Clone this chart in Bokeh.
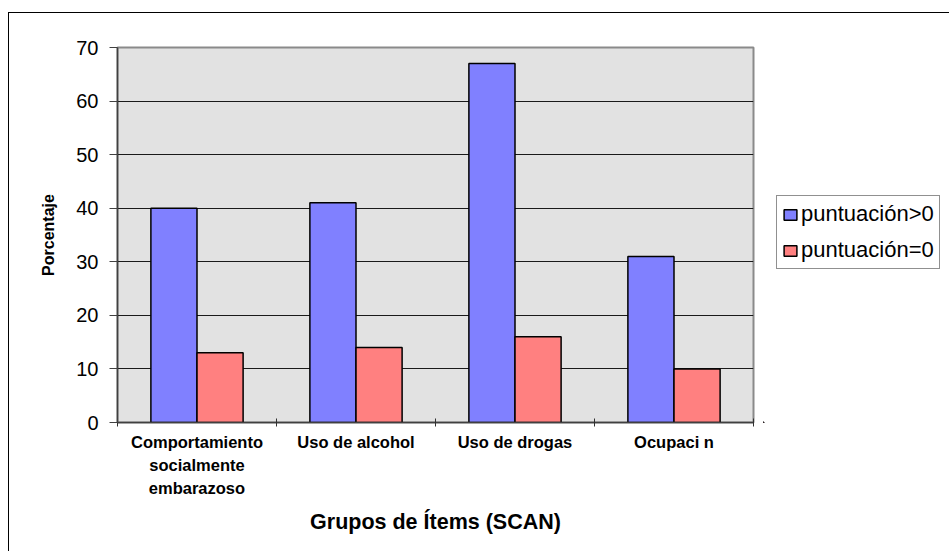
import numpy as np
from bokeh.plotting import figure
from bokeh.layouts import row
from bokeh.models import ColumnDataSource, Range1d, FixedTicker, Legend, LegendItem
from bokeh.transform import dodge
from bokeh.embed import file_html
from bokeh.resources import INLINE

# ---- data ----
categories = ["Comportamiento\nsocialmente\nembarazoso", "Uso de alcohol", "Uso de drogas", "Ocupaci n"]
mayor_cero = [40, 41, 67, 31]
igual_cero = [13, 14, 16, 10]
series_names = ["puntuación>0", "puntuación=0"]
series_colors = ["#8080ff", "#ff8080"]
y_ticks = [0, 10, 20, 30, 40, 50, 60, 70]
x_title = "Grupos de Ítems (SCAN)"
y_title = "Porcentaje"

pos = np.arange(len(categories)) + 0.5
src = ColumnDataSource(dict(x=pos, a=mayor_cero, b=igual_cero))

H = 538
PW = 108 + 636 + 10
LW = 940 - PW
p = figure(width=PW, height=H, x_range=Range1d(0, len(categories)), y_range=Range1d(0, 70),
           output_backend="svg", toolbar_location=None,
           min_border_left=108, min_border_right=10,
           min_border_top=34, min_border_bottom=H - 34 - 375)

p.background_fill_color = "#e2e2e2"
p.border_fill_color = "white"
p.outline_line_color = "#8a8a8a"
p.outline_line_width = 2

bw = 0.29
p.vbar(x=dodge("x", -bw / 2, range=p.x_range), top="a", width=bw, source=src,
       fill_color=series_colors[0], line_color="black", line_width=1.5)
p.vbar(x=dodge("x", bw / 2, range=p.x_range), top="b", width=bw, source=src,
       fill_color=series_colors[1], line_color="black", line_width=1.5)

# grid
p.xgrid.grid_line_color = None
p.ygrid.ticker = FixedTicker(ticks=y_ticks)
p.ygrid.grid_line_color = "#1a1a1a"
p.ygrid.grid_line_width = 1

# y axis
ya = p.yaxis[0]
ya.ticker = FixedTicker(ticks=y_ticks)
ya.axis_line_color = "#404040"
ya.axis_line_width = 1.5
ya.major_tick_in = 0
ya.major_tick_out = 8
ya.major_tick_line_color = "#404040"
ya.minor_tick_line_color = None
ya.major_label_standoff = 11
ya.major_label_text_font = "Liberation Sans"
ya.major_label_text_font_size = "20px"
ya.major_label_text_color = "black"
ya.axis_label = y_title
ya.axis_label_text_font = "Liberation Sans"
ya.axis_label_text_font_style = "bold"
ya.axis_label_text_font_size = "16px"
ya.axis_label_text_color = "black"
ya.axis_label_standoff = 16

# x axis
xa = p.xaxis[0]
xa.ticker = FixedTicker(ticks=list(pos), minor_ticks=list(range(len(categories) + 1)))
xa.major_label_overrides = {float(x): c for x, c in zip(pos, categories)}
xa.axis_line_color = "#404040"
xa.axis_line_width = 1.5
xa.major_tick_line_color = None
xa.major_tick_in = 0
xa.major_tick_out = 4
xa.minor_tick_line_color = "#303030"
xa.minor_tick_in = 4
xa.minor_tick_out = 4
xa.major_label_standoff = 6
xa.major_label_text_font = "Liberation Sans"
xa.major_label_text_font_style = "bold"
xa.major_label_text_font_size = "16.5px"
xa.major_label_text_line_height = 1.3
xa.major_label_text_color = "black"
xa.axis_label = x_title
xa.axis_label_text_font = "Liberation Sans"
xa.axis_label_text_font_style = "bold"
xa.axis_label_text_font_size = "21.5px"
xa.axis_label_text_color = "black"
xa.axis_label_standoff = 10

# ---- legend panel (separate figure to the right; its bars lie outside its view) ----
lf = figure(width=LW, height=H, x_range=Range1d(100, 101), y_range=Range1d(100, 101),
            output_backend="svg", toolbar_location=None,
            min_border=0, outline_line_color=None)
lf.axis.visible = False
lf.grid.visible = False
l1 = lf.vbar(x="x", top="a", width=bw, source=src, fill_color=series_colors[0],
             line_color="black", line_width=1.5)
l2 = lf.vbar(x="x", top="b", width=bw, source=src, fill_color=series_colors[1],
             line_color="black", line_width=1.5)

legend = Legend(items=[LegendItem(label=series_names[0], renderers=[l1]),
                       LegendItem(label=series_names[1], renderers=[l2])],
                location=(13, 153))
legend.label_text_font = "Liberation Sans"
legend.label_text_font_size = "22px"
legend.label_text_color = "black"
legend.glyph_width = 16
legend.glyph_height = 13
legend.label_standoff = 3
legend.label_height = 24
legend.spacing = 10
legend.padding = 5
legend.margin = 0
legend.border_line_color = "#222222"
legend.border_line_width = 1
legend.background_fill_color = "white"
legend.background_fill_alpha = 1
lf.add_layout(legend, "center")

layout = row(p, lf, spacing=0)
layout.styles = {"border-left": "1px solid #000000", "border-top": "1px solid #000000",
                 "margin-top": "12px", "margin-left": "8px"}

open("out.html", "w").write(file_html(layout, INLINE))
